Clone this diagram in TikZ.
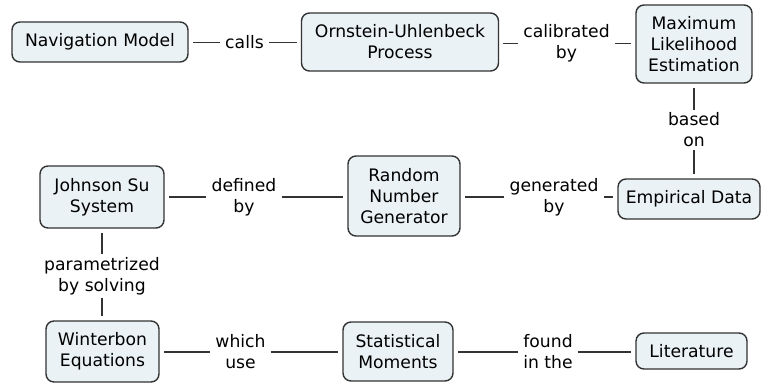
\documentclass[tikz,border=0pt]{standalone}
\usepackage{fontspec}
\setmainfont{DejaVu Sans}
\definecolor{boxfill}{HTML}{EAF2F5}
\definecolor{ink}{HTML}{333333}
\begin{document}
\begin{tikzpicture}[x=1pt,y=-1pt,
  font=\fontsize{17.2}{21}\selectfont,
  concept/.style={draw=ink, line width=1.4pt, fill=boxfill, rounded corners=8pt,
    align=center, inner sep=0pt, text=black},
  lbl/.style={align=center, inner xsep=5pt, inner ysep=3pt, text=black},
  conn/.style={draw=ink, line width=1.7pt, shorten >=4pt}]
\path[use as bounding box] (0,0) rectangle (767,383);
% concepts
\node[concept, minimum width=176pt, minimum height=40pt] (nav) at (100,42) {Navigation Model};
\node[concept, minimum width=197pt, minimum height=58pt] (ou) at (400,42) {Ornstein-Uhlenbeck\\Process};
\node[concept, minimum width=116pt, minimum height=78pt] (mle) at (694,44) {Maximum\\Likelihood\\Estimation};
\node[concept, minimum width=142pt, minimum height=40pt] (emp) at (689,199) {Empirical Data};
\node[concept, minimum width=112pt, minimum height=80pt] (rng) at (404,196) {Random\\Number\\Generator};
\node[concept, minimum width=124pt, minimum height=62pt] (js) at (102,197) {Johnson Su\\System};
\node[concept, minimum width=113pt, minimum height=61pt] (wb) at (102.5,351.5) {Winterbon\\Equations};
\node[concept, minimum width=110pt, minimum height=59pt] (sm) at (398,351.5) {Statistical\\Moments};
\node[concept, minimum width=111pt, minimum height=36pt] (lit) at (691.5,351) {Literature};
% linking phrases
\node[lbl] (l1) at (244.5,42.5) {calls};
\node[lbl] (l2) at (566.5,43.5) {calibrated\\by};
\node[lbl] (l3) at (694,130) {based\\on};
\node[lbl] (l4) at (554,197) {generated\\by};
\node[lbl] (l5) at (244,197) {defined\\by};
\node[lbl] (l6) at (102,276) {parametrized\\by solving};
\node[lbl] (l7) at (240.5,352) {which\\use};
\node[lbl] (l8) at (548,352) {found\\in the};
% connectors
\draw[conn] (l1) -- (l1 -| nav.east);
\draw[conn] (l1) -- (l1 -| ou.west);
\draw[conn] (l2) -- (l2 -| ou.east);
\draw[conn] (l2) -- (l2 -| mle.west);
\draw[conn] (l3) -- (l3 |- mle.south);
\draw[conn] (l3) -- (l3 |- emp.north);
\draw[conn] (l4) -- (l4 -| emp.west);
\draw[conn] (l4) -- (l4 -| rng.east);
\draw[conn] (l5) -- (l5 -| rng.west);
\draw[conn] (l5) -- (l5 -| js.east);
\draw[conn] (l6) -- (l6 |- js.south);
\draw[conn] (l6) -- (l6 |- wb.north);
\draw[conn] (l7) -- (l7 -| wb.east);
\draw[conn] (l7) -- (l7 -| sm.west);
\draw[conn] (l8) -- (l8 -| sm.east);
\draw[conn] (l8) -- (l8 -| lit.west);
\end{tikzpicture}
\end{document}
